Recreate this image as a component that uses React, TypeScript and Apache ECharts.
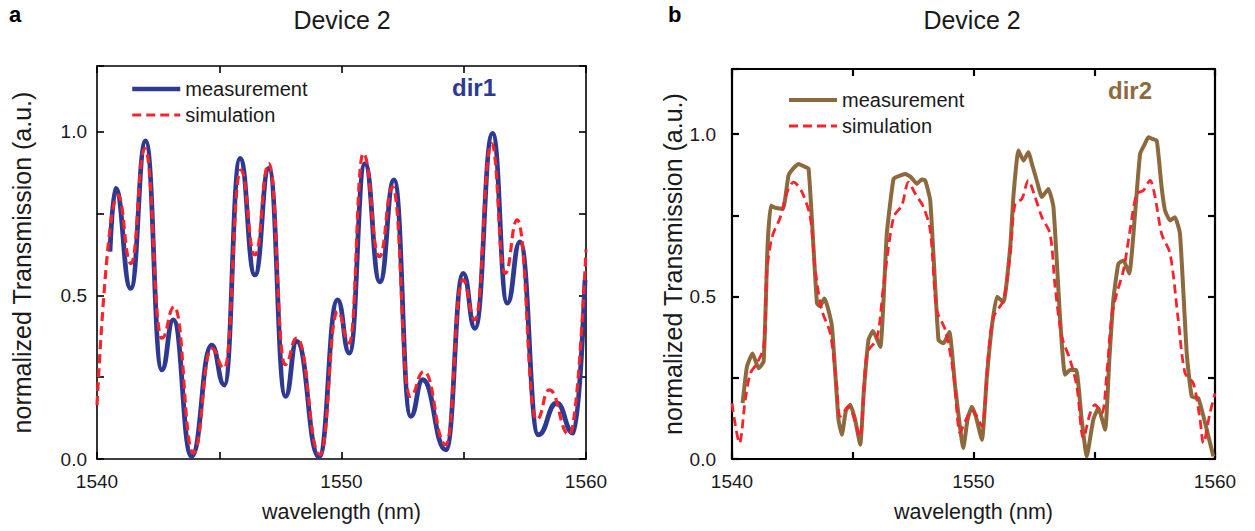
import React, { useEffect, useRef } from "react";
import * as echarts from "echarts";

// ---- data ----
const xTicksMajor = [1540, 1550, 1560];
const yTickLabels = ["0.0", "0.5", "1.0"];

// panel a (dir1)
const measDir1: [number, number][] = [
  [1540.53, 0.633], [1540.76, 0.826], [1541.38, 0.521], [1541.99, 0.971], [1542.65, 0.272],
  [1543.12, 0.425], [1543.87, 0.008], [1544.69, 0.348], [1545.21, 0.226], [1545.85, 0.918],
  [1546.46, 0.562], [1547.03, 0.887], [1547.71, 0.191], [1548.17, 0.359], [1549.08, 0.006],
  [1549.84, 0.486], [1550.32, 0.323], [1550.96, 0.902], [1551.57, 0.541], [1552.15, 0.852],
  [1552.83, 0.130], [1553.32, 0.242], [1554.27, 0.028], [1554.98, 0.567], [1555.46, 0.399],
  [1556.18, 0.994], [1556.78, 0.476], [1557.30, 0.663], [1558.05, 0.074], [1558.80, 0.171],
  [1559.48, 0.079], [1559.96, 0.547],
];
const simDir1: [number, number][] = [
  [1540.0, 0.165], [1540.85, 0.806], [1541.39, 0.597], [1541.96, 0.948], [1542.65, 0.369],
  [1543.16, 0.465], [1543.94, 0.018], [1544.69, 0.338], [1545.21, 0.277], [1545.88, 0.882],
  [1546.46, 0.623], [1547.03, 0.902], [1547.69, 0.288], [1548.17, 0.369], [1549.12, 0.013],
  [1549.84, 0.45], [1550.32, 0.354], [1550.89, 0.933], [1551.55, 0.618], [1552.09, 0.831],
  [1552.80, 0.191], [1553.37, 0.267], [1554.27, 0.044], [1554.96, 0.547], [1555.46, 0.425],
  [1556.14, 0.963], [1556.69, 0.567], [1557.19, 0.73], [1557.98, 0.12], [1558.50, 0.211],
  [1559.32, 0.074], [1560.0, 0.64],
];

// panel b (dir2)
const measDir2: [number, number][] = [
  [1540.44, 0.172], [1540.62, 0.284], [1540.85, 0.325], [1541.10, 0.279], [1541.31, 0.30],
  [1541.47, 0.652], [1541.61, 0.78], [1541.79, 0.773], [1542.11, 0.77], [1542.34, 0.872],
  [1542.55, 0.895], [1542.76, 0.908], [1543.0, 0.9], [1543.17, 0.893], [1543.35, 0.683],
  [1543.52, 0.478], [1543.65, 0.47], [1543.82, 0.494], [1543.95, 0.47], [1544.14, 0.407],
  [1544.41, 0.121], [1544.55, 0.075], [1544.72, 0.15], [1544.90, 0.167], [1545.1, 0.12],
  [1545.31, 0.044], [1545.45, 0.2], [1545.65, 0.366], [1545.84, 0.394], [1546.14, 0.345],
  [1546.41, 0.693], [1546.69, 0.862], [1546.9, 0.87], [1547.17, 0.877], [1547.4, 0.868],
  [1547.66, 0.847], [1547.85, 0.86], [1548.0, 0.857], [1548.21, 0.795], [1548.55, 0.366],
  [1548.76, 0.356], [1549.0, 0.391], [1549.24, 0.223], [1549.58, 0.034], [1549.75, 0.12],
  [1549.93, 0.161], [1550.1, 0.13], [1550.35, 0.059], [1550.55, 0.25], [1550.76, 0.407],
  [1550.97, 0.499], [1551.24, 0.483], [1551.52, 0.652], [1551.65, 0.806], [1551.86, 0.949],
  [1552.07, 0.918], [1552.27, 0.944], [1552.45, 0.9], [1552.62, 0.857], [1552.83, 0.806],
  [1553.10, 0.831], [1553.31, 0.775], [1553.59, 0.427], [1553.79, 0.259], [1554.00, 0.274],
  [1554.25, 0.274], [1554.48, 0.121], [1554.69, 0.008], [1554.96, 0.121], [1555.17, 0.156],
  [1555.45, 0.09], [1555.62, 0.3], [1555.79, 0.489], [1556.00, 0.601], [1556.21, 0.611],
  [1556.45, 0.571], [1556.69, 0.755], [1556.90, 0.939], [1557.1, 0.97], [1557.24, 0.99],
  [1557.4, 0.985], [1557.59, 0.979], [1557.79, 0.836], [1557.93, 0.765], [1558.14, 0.734],
  [1558.34, 0.744], [1558.55, 0.693], [1558.83, 0.325], [1559.04, 0.192], [1559.31, 0.187],
  [1559.66, 0.09], [1559.93, 0.008],
];
const simDir2: [number, number][] = [
  [1540.0, 0.172], [1540.31, 0.049], [1540.55, 0.182], [1540.76, 0.264], [1541.03, 0.294],
  [1541.31, 0.345], [1541.45, 0.581], [1541.66, 0.683], [1542.0, 0.744], [1542.28, 0.821],
  [1542.55, 0.852], [1542.90, 0.821], [1543.24, 0.744], [1543.45, 0.581], [1543.72, 0.458],
  [1544.07, 0.386], [1544.34, 0.223], [1544.48, 0.131], [1544.83, 0.161], [1545.28, 0.069],
  [1545.59, 0.325], [1546.0, 0.371], [1546.27, 0.53], [1546.69, 0.744], [1547.03, 0.78],
  [1547.31, 0.852], [1547.59, 0.816], [1547.93, 0.775], [1548.21, 0.703], [1548.48, 0.458],
  [1548.83, 0.397], [1549.17, 0.264], [1549.45, 0.08], [1549.65, 0.115], [1549.93, 0.151],
  [1550.14, 0.131], [1550.35, 0.1], [1550.62, 0.325], [1550.83, 0.437], [1551.24, 0.489],
  [1551.52, 0.632], [1551.72, 0.785], [1552.0, 0.80], [1552.27, 0.857], [1552.55, 0.806],
  [1552.83, 0.744], [1553.17, 0.693], [1553.38, 0.53], [1553.66, 0.376], [1554.0, 0.305],
  [1554.28, 0.223], [1554.55, 0.064], [1554.83, 0.141], [1555.03, 0.167], [1555.31, 0.141],
  [1555.52, 0.264], [1555.72, 0.437], [1555.93, 0.509], [1556.21, 0.581], [1556.48, 0.703],
  [1556.76, 0.816], [1557.03, 0.826], [1557.31, 0.857], [1557.52, 0.806], [1557.79, 0.693],
  [1558.14, 0.632], [1558.48, 0.427], [1558.76, 0.264], [1559.10, 0.233], [1559.38, 0.121],
  [1559.52, 0.049], [1559.79, 0.141], [1560.0, 0.202],
];

const BLUE = "#2e3a92";
const RED = "#f7242c";
const BROWN = "#8c6a3e";
const FONT = "Liberation Sans, Arial, sans-serif";

function xAxisPair(gridIndex: number, lw: number) {
  const common = {
    type: "value",
    gridIndex,
    min: 1540,
    max: 1560,
    interval: 5,
    splitLine: { show: false },
    axisLine: { show: true, onZero: false, lineStyle: { color: "#000", width: lw } },
    axisTick: { show: true, inside: true, length: 7, lineStyle: { color: "#000", width: lw } },
  };
  return [
    {
      ...common,
      position: "bottom",
      name: "wavelength (nm)",
      nameLocation: "middle",
      nameGap: 42,
      nameTextStyle: { fontFamily: FONT, fontSize: 21.5, color: "#1a1a1a" },
      axisLabel: {
        show: true,
        margin: 13,
        fontFamily: FONT,
        fontSize: 19,
        color: "#1a1a1a",
        formatter: (v: number) => (xTicksMajor.includes(v) ? String(v) : ""),
      },
    },
    { ...common, position: "top", axisLabel: { show: false } },
  ];
}

function yAxisPair(gridIndex: number, lw: number, labelMargin: number, nameGap: number) {
  const common = {
    type: "value",
    gridIndex,
    min: 0,
    max: 1.2,
    interval: 0.25,
    splitLine: { show: false },
    axisLine: { show: true, onZero: false, lineStyle: { color: "#000", width: lw } },
    axisTick: { show: true, inside: true, length: 7, lineStyle: { color: "#000", width: lw } },
  };
  return [
    {
      ...common,
      position: "left",
      name: "normalized Transmission (a.u.)",
      nameLocation: "middle",
      nameGap,
      nameTextStyle: { fontFamily: FONT, fontSize: 25, color: "#1a1a1a" },
      axisLabel: {
        show: true,
        margin: labelMargin,
        fontFamily: FONT,
        fontSize: 19,
        color: "#1a1a1a",
        formatter: (v: number) => {
          const s = v.toFixed(1);
          return yTickLabels.includes(s) && Math.abs(v - parseFloat(s)) < 1e-6 ? s : "";
        },
      },
    },
    { ...common, position: "right", axisLabel: { show: false } },
  ];
}

export default function App() {
  const ref = useRef<HTMLDivElement>(null);
  useEffect(() => {
    if (!ref.current) return;
    const chart = echarts.init(ref.current, undefined, { renderer: "svg" });
    const hideSym = { opacity: 0 };
    const option: any = {
      animation: false,
      backgroundColor: "#fff",
      title: [
        { text: "Device 2", left: 342, top: 7, textAlign: "center", padding: 0,
          textStyle: { fontFamily: FONT, fontSize: 25, fontWeight: "normal", color: "#1a1a1a" } },
        { text: "Device 2", left: 972, top: 7, textAlign: "center", padding: 0,
          textStyle: { fontFamily: FONT, fontSize: 25, fontWeight: "normal", color: "#1a1a1a" } },
        { text: "a", left: 9, top: 3, padding: 0,
          textStyle: { fontFamily: FONT, fontSize: 22, fontWeight: "bold", color: "#000" } },
        { text: "b", left: 668, top: 3, padding: 0,
          textStyle: { fontFamily: FONT, fontSize: 22, fontWeight: "bold", color: "#000" } },
        { text: "dir1", left: 474, top: 75, textAlign: "center", padding: 0,
          textStyle: { fontFamily: FONT, fontSize: 24, fontWeight: "bold", color: BLUE } },
        { text: "dir2", left: 1130, top: 78, textAlign: "center", padding: 0,
          textStyle: { fontFamily: FONT, fontSize: 24, fontWeight: "bold", color: BROWN } },
      ],
      legend: [
        {
          orient: "vertical", left: 130, top: 79, padding: 0, itemWidth: 48, itemHeight: 18, itemGap: 6,
          textStyle: { fontFamily: FONT, fontSize: 20, color: "#1a1a1a" },
          data: [
            { name: "measurement", itemStyle: hideSym, lineStyle: { color: BLUE, width: 4.5 } },
            { name: "simulation", itemStyle: hideSym, lineStyle: { color: RED, width: 3.2, type: [9, 5] } },
          ],
        },
        {
          orient: "vertical", left: 787, top: 90, padding: 0, itemWidth: 48, itemHeight: 18, itemGap: 6,
          textStyle: { fontFamily: FONT, fontSize: 20, color: "#1a1a1a" },
          data: [
            { name: "measurement", itemStyle: hideSym, lineStyle: { color: BROWN, width: 4 } },
            { name: "simulation", itemStyle: hideSym, lineStyle: { color: RED, width: 2.8, type: [9, 5] } },
          ],
        },
      ],
      grid: [
        { left: 97, top: 66, width: 489, height: 393 },
        { left: 732, top: 69, width: 483, height: 390 },
      ],
      xAxis: [...xAxisPair(0, 1.6), ...xAxisPair(1, 2.2)],
      yAxis: [...yAxisPair(0, 1.6, 10, 63), ...yAxisPair(1, 2.2, 16, 45)],
      series: [
        {
          name: "measurement", type: "line", xAxisIndex: 0, yAxisIndex: 0, data: measDir1,
          symbol: "none", smooth: 0.5, smoothMonotone: "x", z: 2,
          lineStyle: { color: BLUE, width: 4.8 }, itemStyle: { color: BLUE },
        },
        {
          name: "simulation", type: "line", xAxisIndex: 0, yAxisIndex: 0, data: simDir1,
          symbol: "none", smooth: 0.5, smoothMonotone: "x", z: 3,
          lineStyle: { color: RED, width: 3.2, type: [9, 5] }, itemStyle: { color: RED },
        },
        {
          name: "measurement", type: "line", xAxisIndex: 2, yAxisIndex: 2, data: measDir2,
          symbol: "none", smooth: 0.15, z: 2,
          lineStyle: { color: BROWN, width: 4 }, itemStyle: { color: BROWN },
        },
        {
          name: "simulation", type: "line", xAxisIndex: 2, yAxisIndex: 2, data: simDir2,
          symbol: "none", smooth: 0.3, z: 3,
          lineStyle: { color: RED, width: 2.8, type: [9, 5] }, itemStyle: { color: RED },
        },
      ],
    };
    chart.setOption(option);
    return () => chart.dispose();
  }, []);
  return (
    <div
      ref={ref}
      style={{ position: "fixed", left: 0, top: 0, width: 1255, height: 531, background: "#fff" }}
    />
  );
}
